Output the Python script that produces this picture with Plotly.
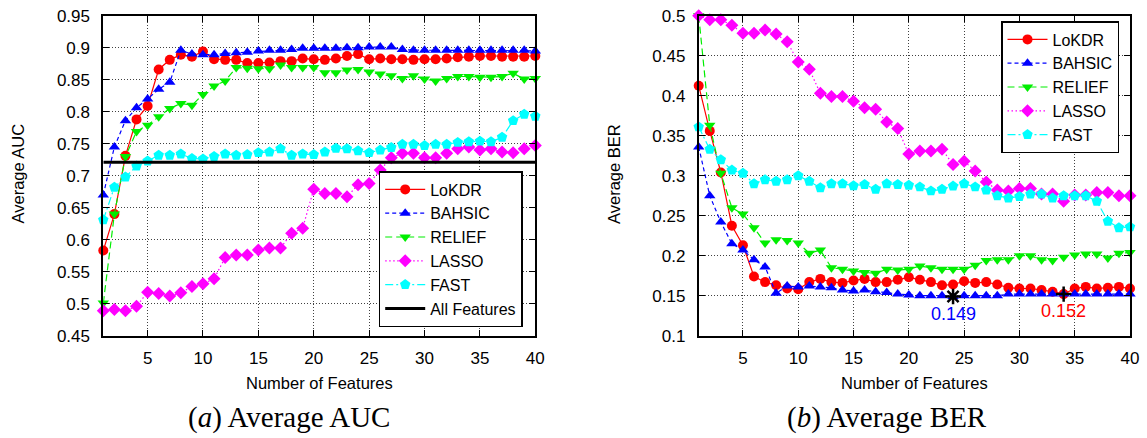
import plotly.graph_objects as go

# ---------------- data ----------------
features = list(range(1, 41))

lokdr_auc = [0.583, 0.640, 0.731, 0.788, 0.809, 0.866, 0.881, 0.889, 0.886, 0.894,
             0.882, 0.881, 0.881, 0.876, 0.876, 0.877, 0.879, 0.879, 0.883, 0.882,
             0.881, 0.883, 0.887, 0.890, 0.882, 0.883, 0.882, 0.882, 0.881, 0.882,
             0.882, 0.883, 0.885, 0.886, 0.887, 0.887, 0.886, 0.886, 0.886, 0.887]
bahsic_auc = [0.670, 0.745, 0.786, 0.806, 0.820, 0.835, 0.846, 0.896, 0.890, 0.889,
              0.889, 0.891, 0.892, 0.893, 0.895, 0.896, 0.896, 0.897, 0.899, 0.899,
              0.899, 0.899, 0.900, 0.900, 0.901, 0.901, 0.901, 0.897, 0.896, 0.896,
              0.896, 0.896, 0.896, 0.896, 0.896, 0.896, 0.896, 0.896, 0.896, 0.895]
relief_auc = [0.501, 0.640, 0.730, 0.769, 0.779, 0.792, 0.805, 0.813, 0.810, 0.827,
              0.840, 0.848, 0.869, 0.868, 0.867, 0.867, 0.873, 0.869, 0.869, 0.869,
              0.861, 0.861, 0.865, 0.866, 0.862, 0.859, 0.856, 0.852, 0.856, 0.851,
              0.848, 0.852, 0.855, 0.855, 0.854, 0.854, 0.855, 0.860, 0.851, 0.852]
lasso_auc = [0.489, 0.491, 0.489, 0.496, 0.518, 0.516, 0.512, 0.517, 0.527, 0.531,
             0.539, 0.572, 0.576, 0.576, 0.584, 0.587, 0.587, 0.610, 0.618, 0.679,
             0.672, 0.672, 0.667, 0.686, 0.688, 0.709, 0.728, 0.735, 0.735, 0.728,
             0.728, 0.735, 0.742, 0.745, 0.740, 0.742, 0.737, 0.736, 0.742, 0.747]
fast_auc = [0.631, 0.682, 0.698, 0.715, 0.723, 0.732, 0.732, 0.734, 0.727, 0.726,
            0.730, 0.734, 0.732, 0.733, 0.736, 0.737, 0.742, 0.732, 0.734, 0.733,
            0.737, 0.743, 0.742, 0.739, 0.736, 0.740, 0.744, 0.749, 0.749, 0.747,
            0.749, 0.749, 0.752, 0.753, 0.754, 0.753, 0.760, 0.786, 0.796, 0.793]
all_features_x = [1, 40]
all_features_auc = [0.721, 0.721]

lokdr_ber = [0.4125, 0.356, 0.304, 0.2375, 0.213, 0.174, 0.167, 0.163, 0.159, 0.158,
             0.167, 0.171, 0.167, 0.166, 0.169, 0.171, 0.167, 0.167, 0.170, 0.173,
             0.170, 0.167, 0.163, 0.164, 0.168, 0.166, 0.167, 0.164, 0.160, 0.159,
             0.159, 0.157, 0.155, 0.152, 0.159, 0.161, 0.159, 0.160, 0.161, 0.159]
bahsic_ber = [0.336, 0.275, 0.242, 0.215, 0.207, 0.195, 0.186, 0.153, 0.162, 0.161,
              0.162, 0.161, 0.160, 0.157, 0.156, 0.157, 0.155, 0.154, 0.152, 0.151,
              0.150, 0.150, 0.150, 0.149, 0.150, 0.150, 0.150, 0.150, 0.152, 0.152,
              0.152, 0.152, 0.152, 0.152, 0.152, 0.152, 0.152, 0.152, 0.152, 0.152]
relief_ber = [0.500, 0.363, 0.303, 0.260, 0.252, 0.235, 0.216, 0.220, 0.219, 0.216,
              0.203, 0.207, 0.185, 0.183, 0.181, 0.179, 0.178, 0.183, 0.182, 0.183,
              0.187, 0.185, 0.183, 0.183, 0.183, 0.188, 0.194, 0.195, 0.195, 0.200,
              0.200, 0.195, 0.194, 0.198, 0.201, 0.202, 0.202, 0.197, 0.203, 0.204]
lasso_ber = [0.500, 0.495, 0.495, 0.488, 0.478, 0.478, 0.482, 0.477, 0.4675, 0.442,
             0.433, 0.403, 0.399, 0.399, 0.393, 0.385, 0.383, 0.367, 0.359, 0.327,
             0.331, 0.331, 0.333, 0.314, 0.318, 0.306, 0.292, 0.282, 0.281, 0.284,
             0.284, 0.277, 0.277, 0.268, 0.276, 0.276, 0.279, 0.279, 0.275, 0.275]
fast_ber = [0.361, 0.333, 0.320, 0.307, 0.303, 0.290, 0.295, 0.293, 0.295, 0.300,
            0.293, 0.285, 0.290, 0.290, 0.2875, 0.289, 0.283, 0.290, 0.289, 0.288,
            0.286, 0.281, 0.283, 0.287, 0.290, 0.286, 0.282, 0.275, 0.272, 0.274,
            0.277, 0.277, 0.272, 0.275, 0.275, 0.275, 0.268, 0.243, 0.235, 0.236]

best_bahsic = (24, 0.149)
best_lokdr = (34, 0.152)

x_ticks = [5, 10, 15, 20, 25, 30, 35, 40]
auc_ticks = [0.45, 0.5, 0.55, 0.6, 0.65, 0.7, 0.75, 0.8, 0.85, 0.9, 0.95]
auc_tick_text = ["0.45", "0.5", "0.55", "0.6", "0.65", "0.7", "0.75", "0.8", "0.85", "0.9", "0.95"]
ber_ticks = [0.1, 0.15, 0.2, 0.25, 0.3, 0.35, 0.4, 0.45, 0.5]
ber_tick_text = ["0.1", "0.15", "0.2", "0.25", "0.3", "0.35", "0.4", "0.45", "0.5"]

# ---------------- styling ----------------
SANS = "Liberation Sans, Arial, sans-serif"
SERIF = "Liberation Serif, Times New Roman, serif"
W, H = 1147, 438

series = [
    ("LoKDR", "#ff0000", "solid", "circle", 10),
    ("BAHSIC", "#0000ff", "4px,3px", "triangle-up", 10),
    ("RELIEF", "#00ee00", "7px,4px", "triangle-down", 10),
    ("LASSO", "#ff00ff", "1.5px,2.5px", "diamond", 10),
    ("FAST", "#00ffff", "8px,3px,2px,3px", "pentagon", 11),
]
auc_data = [lokdr_auc, bahsic_auc, relief_auc, lasso_auc, fast_auc]
ber_data = [lokdr_ber, bahsic_ber, relief_ber, lasso_ber, fast_ber]

fig = go.Figure()

for (name, col, dash, sym, ms), ys in zip(series, auc_data):
    fig.add_trace(go.Scatter(
        x=features, y=ys, name=name, mode="lines+markers",
        line=dict(color=col, width=1.2, dash=dash),
        marker=dict(symbol=sym, size=ms, color=col, line=dict(width=0)),
        cliponaxis=False, xaxis="x", yaxis="y", legend="legend"))
fig.add_trace(go.Scatter(
    x=all_features_x, y=all_features_auc, name="All Features", mode="lines",
    line=dict(color="black", width=3), xaxis="x", yaxis="y", legend="legend"))

for (name, col, dash, sym, ms), ys in zip(series, ber_data):
    fig.add_trace(go.Scatter(
        x=features, y=ys, name=name, mode="lines+markers",
        line=dict(color=col, width=1.2, dash=dash),
        marker=dict(symbol=sym, size=ms, color=col, line=dict(width=0)),
        cliponaxis=False, xaxis="x2", yaxis="y2", legend="legend2"))

fig.add_trace(go.Scatter(
    x=[best_bahsic[0]], y=[best_bahsic[1]], mode="markers", showlegend=False,
    marker=dict(symbol="asterisk-open", size=13, color="black",
                line=dict(width=2.5, color="black")),
    cliponaxis=False, xaxis="x2", yaxis="y2"))
fig.add_trace(go.Scatter(
    x=[best_lokdr[0]], y=[best_lokdr[1]], mode="markers", showlegend=False,
    marker=dict(symbol="cross-thin-open", size=11, color="black",
                line=dict(width=2.5, color="black")),
    cliponaxis=False, xaxis="x2", yaxis="y2"))

# geometry (pixels -> paper)
L1, R1 = 103.3, 535.3
L2, R2 = 698.7, 1130.0
TOP, BOT = 15.7, 335.7
px = lambda v: v / W
py = lambda v: 1 - v / H

grid = dict(showgrid=True, gridcolor="rgba(0,0,0,0.75)", gridwidth=1, griddash="1px,2px")
axis_common = dict(showline=True, linecolor="black", linewidth=1.8, mirror="ticks",
                   ticks="inside", ticklen=6, tickwidth=1.2, tickcolor="black",
                   tickfont=dict(family=SANS, size=17, color="black"),
                   zeroline=False, automargin=False, **grid)

legend_common = dict(xanchor="right", bgcolor="white",
                     bordercolor="black", borderwidth=1.5,
                     font=dict(family=SANS, size=16, color="black"),
                     tracegroupgap=0, itemwidth=40)

fig.update_layout(
    width=W, height=H,
    margin=dict(l=0, r=0, t=0, b=0, pad=0, autoexpand=False),
    paper_bgcolor="white", plot_bgcolor="white",
    xaxis=dict(domain=[px(L1), px(R1)], range=[1, 40], tickvals=x_ticks,
               ticklabelstandoff=6, anchor="y", **axis_common),
    yaxis=dict(domain=[py(BOT), py(TOP)], range=[0.45, 0.95], tickvals=auc_ticks,
               ticktext=auc_tick_text, ticklabelstandoff=8, anchor="x", **axis_common),
    xaxis2=dict(domain=[px(L2), px(R2)], range=[1, 40], tickvals=x_ticks,
                ticklabelstandoff=6, anchor="y2", **axis_common),
    yaxis2=dict(domain=[py(BOT), py(TOP)], range=[0.1, 0.5], tickvals=ber_ticks,
                ticktext=ber_tick_text, ticklabelstandoff=8, anchor="x2", **axis_common),
    legend=dict(x=px(522.7), y=py(327), yanchor="bottom", **legend_common),
    legend2=dict(x=px(1119), y=py(21), yanchor="top", **legend_common),
)

ann = []
for cx in ((L1 + R1) / 2, (L2 + R2) / 2):
    ann.append(dict(text="Number of Features", x=px(cx), y=py(383), xref="paper", yref="paper",
                    showarrow=False, xanchor="center", yanchor="middle",
                    font=dict(family=SANS, size=16.5, color="black")))
ann.append(dict(text="Average AUC", x=px(17.5), y=py(174), xref="paper", yref="paper",
                showarrow=False, textangle=-90, xanchor="center", yanchor="middle",
                font=dict(family=SANS, size=16.5, color="black")))
ann.append(dict(text="Average BER", x=px(614), y=py(174), xref="paper", yref="paper",
                showarrow=False, textangle=-90, xanchor="center", yanchor="middle",
                font=dict(family=SANS, size=16.5, color="black")))
ann.append(dict(text="(<i>a</i>) Average AUC", x=px(289), y=py(417), xref="paper", yref="paper",
                showarrow=False, xanchor="center", yanchor="middle",
                font=dict(family=SERIF, size=29, color="black")))
ann.append(dict(text="(<i>b</i>) Average BER", x=px(887), y=py(417), xref="paper", yref="paper",
                showarrow=False, xanchor="center", yanchor="middle",
                font=dict(family=SERIF, size=29, color="black")))
for (bx, by), col in ((best_bahsic, "#0000ff"), (best_lokdr, "#ff0000")):
    ann.append(dict(text=f"{by:.3f}", x=bx, y=by, xref="x2", yref="y2", showarrow=False,
                    xanchor="center", yanchor="middle", yshift=-17,
                    font=dict(family=SANS, size=18, color=col)))
fig.update_layout(annotations=ann)

fig.write_html(
    "out.html",
    config={"displayModeBar": False},
    post_script="document.body.style.margin='0';document.body.style.padding='0';"
                "document.body.style.overflow='hidden';",
)
